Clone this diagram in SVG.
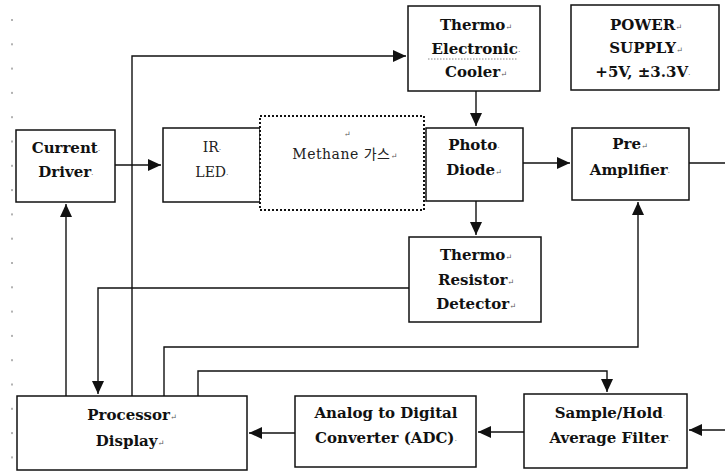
<svg xmlns="http://www.w3.org/2000/svg" width="725" height="471" viewBox="0 0 725 471">
<defs>
<style>
.box{fill:#fff;stroke:#111;stroke-width:1.5}
.gas{fill:#fff;stroke:#111;stroke-width:2;stroke-dasharray:2 2}
.t{font-family:"DejaVu Serif","Liberation Serif","Noto Sans CJK KR",serif;font-weight:bold;font-size:15px;fill:#111;text-anchor:middle}
.tn{font-family:"DejaVu Serif","Liberation Serif","Noto Sans CJK KR",serif;font-size:14px;fill:#222;text-anchor:middle}
.m{font-size:8px;font-weight:normal;fill:#555}
.c{fill:none;stroke:#111;stroke-width:1.4}
.tick{stroke:#666;stroke-width:1;stroke-dasharray:2 22.3}
.wavy{fill:none;stroke:#888;stroke-width:1;stroke-dasharray:1.5 1.5}
</style>
<marker id="arr" markerUnits="userSpaceOnUse" markerWidth="14" markerHeight="12" refX="13" refY="6" orient="auto">
<path d="M0,0 L13,6 L0,12 Z" fill="#111"/>
</marker>
</defs>
<rect width="725" height="471" fill="#fff"/>
<line class="tick" x1="12" y1="19" x2="12" y2="471"/>

<g id="connectors">
<path class="c" d="M115,165 H161" marker-end="url(#arr)"/>
<path class="c" d="M66,396 V204" marker-end="url(#arr)"/>
<path class="c" d="M132,396 V56 H406" marker-end="url(#arr)"/>
<path class="c" d="M476,91 V126" marker-end="url(#arr)"/>
<path class="c" d="M476,201 V235" marker-end="url(#arr)"/>
<path class="c" d="M409,288 H98 V394" marker-end="url(#arr)"/>
<path class="c" d="M523,163 H570" marker-end="url(#arr)"/>
<path class="c" d="M689,163 H725"/>
<path class="c" d="M164,396 V347 H638 V202" marker-end="url(#arr)"/>
<path class="c" d="M198,396 V371 H607 V392" marker-end="url(#arr)"/>
<path class="c" d="M725,430 H689" marker-end="url(#arr)"/>
<path class="c" d="M524,432 H478" marker-end="url(#arr)"/>
<path class="c" d="M295,433 H249" marker-end="url(#arr)"/>
</g>

<g id="current-driver">
<rect class="box" x="16" y="130" width="99" height="72"/>
<text class="t" x="66" y="153">Current<tspan class="m">·</tspan></text>
<text class="t" x="66" y="177">Driver<tspan class="m">·</tspan></text>
</g>

<g id="ir-led">
<rect class="box" x="163" y="128" width="97" height="74"/>
<text class="tn" x="212" y="152">IR<tspan class="m">·</tspan></text>
<text class="tn" x="212" y="177">LED<tspan class="m">·</tspan></text>
</g>

<g id="photo-diode">
<rect class="box" x="426" y="128" width="97" height="73"/>
<text class="t" x="474" y="150">Photo<tspan class="m">·</tspan></text>
<text class="t" x="474" y="175">Diode<tspan class="m">↵</tspan></text>
</g>

<g id="methane-gas">
<rect class="gas" x="260" y="116" width="164" height="94"/>
<text class="tn" x="347" y="137"><tspan class="m">↵</tspan></text>
<text class="tn" x="345" y="159" letter-spacing="0.5">Methane 가스<tspan class="m">↵</tspan></text>
</g>

<g id="thermo-electronic-cooler">
<rect class="box" x="408" y="6" width="132" height="85"/>
<text class="t" x="476" y="30">Thermo<tspan class="m">↵</tspan></text>
<text class="t" x="476" y="54">Electronic<tspan class="m">·</tspan></text>
<path class="wavy" d="M428,59 H518"/>
<text class="t" x="476" y="77">Cooler<tspan class="m">↵</tspan></text>
</g>

<g id="power-supply">
<rect class="box" x="571" y="5" width="148" height="85"/>
<text class="t" x="646" y="30">POWER<tspan class="m">↵</tspan></text>
<text class="t" x="646" y="53">SUPPLY<tspan class="m">↵</tspan></text>
<text class="t" x="643" y="77">+5V, ±3.3V<tspan class="m">·</tspan></text>
</g>

<g id="pre-amplifier">
<rect class="box" x="572" y="128" width="117" height="72"/>
<text class="t" x="630" y="149">Pre<tspan class="m">↵</tspan></text>
<text class="t" x="630" y="175">Amplifier<tspan class="m">·</tspan></text>
</g>

<g id="thermo-resistor-detector">
<rect class="box" x="409" y="237" width="132" height="85"/>
<text class="t" x="476" y="260">Thermo<tspan class="m">↵</tspan></text>
<text class="t" x="476" y="285">Resistor<tspan class="m">↵</tspan></text>
<text class="t" x="476" y="309">Detector<tspan class="m">↵</tspan></text>
</g>

<g id="processor-display">
<rect class="box" x="17" y="396" width="230" height="74"/>
<text class="t" x="132" y="420">Processor<tspan class="m">↵</tspan></text>
<text class="t" x="130" y="446">Display<tspan class="m">↵</tspan></text>
</g>

<g id="adc">
<rect class="box" x="295" y="396" width="181" height="71"/>
<text class="t" x="386" y="418">Analog to Digital</text>
<text class="t" x="386" y="443">Converter (ADC)<tspan class="m">·</tspan></text>
</g>

<g id="sample-hold">
<rect class="box" x="524" y="394" width="163" height="74"/>
<text class="t" x="610" y="418">Sample/Hold<tspan class="m">·</tspan></text>
<text class="t" x="610" y="443">Average Filter<tspan class="m">·</tspan></text>
</g>
</svg>
